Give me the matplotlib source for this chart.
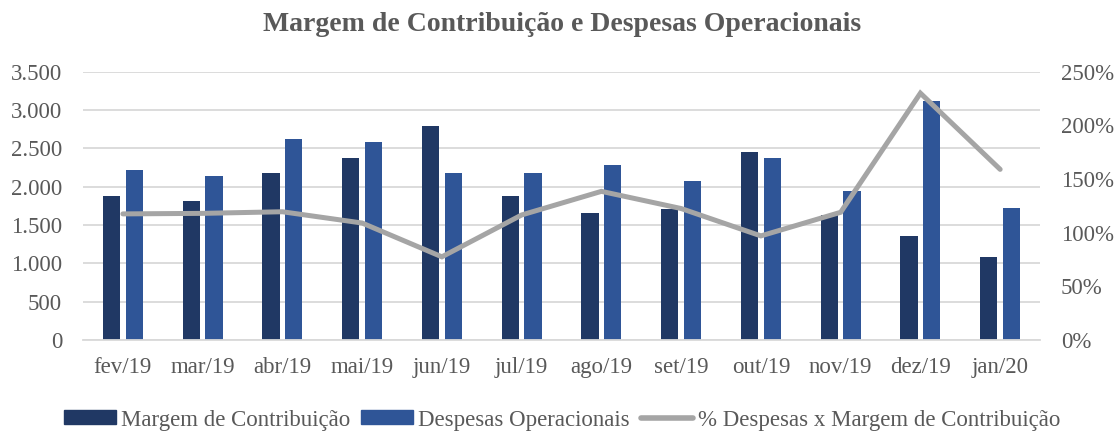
import numpy as np
import matplotlib
matplotlib.use("Agg")
import matplotlib.pyplot as plt
from matplotlib.ticker import FuncFormatter
from matplotlib.lines import Line2D
from matplotlib.patches import Patch

months = ["fev/19", "mar/19", "abr/19", "mai/19", "jun/19", "jul/19",
          "ago/19", "set/19", "out/19", "nov/19", "dez/19", "jan/20"]
margem = [1878, 1813, 2174, 2370, 2787, 1878, 1661, 1705, 2448, 1635, 1357, 1083]
despesas = [2213, 2143, 2622, 2583, 2174, 2174, 2287, 2074, 2370, 1939, 3118, 1726]
pct = [117.5, 118.0, 119.5, 109.0, 77.5, 116.5, 138.5, 122.5, 97.0, 119.0, 230.0, 159.0]

DARK = "#203864"
BLUE = "#2F5597"
GRAY = "#A5A5A5"
GRID = "#D9D9D9"
TEXT = "#595959"

plt.rcParams["font.family"] = ["Liberation Serif", "DejaVu Serif"]

fig = plt.figure(figsize=(11.2, 4.33), dpi=100)
ax = fig.add_axes([0.0741, 0.2148, 0.8545, 0.6196])
ax2 = ax.twinx()

x = np.arange(len(months))
w = 0.217
off = 0.143
ax.bar(x - off, margem, w, color=DARK, zorder=2)
ax.bar(x + off, despesas, w, color=BLUE, zorder=2)
ax2.plot(x, pct, color=GRAY, lw=3.6, solid_capstyle="round", solid_joinstyle="miter")

ax.set_xlim(-0.5, len(months) - 0.5)
ax.set_ylim(0, 3500)
ax.set_yticks(np.arange(0, 3501, 500))
ax.yaxis.set_major_formatter(FuncFormatter(lambda v, p: f"{int(v):,}".replace(",", ".")))
ax2.set_ylim(0, 250)
ax2.set_yticks(np.arange(0, 251, 50))
ax2.yaxis.set_major_formatter(FuncFormatter(lambda v, p: f"{int(v)}%"))

ax.set_xticks(x)
ax.set_xticklabels(months)
ax.grid(axis="y", color=GRID, lw=1.3)
ax.set_axisbelow(True)

for a in (ax, ax2):
    for s in ("top", "left", "right", "bottom"):
        a.spines[s].set_visible(False)
    a.tick_params(length=0, colors=TEXT, labelsize=16.5)
ax.spines["bottom"].set_visible(True)
ax.spines["bottom"].set_color(GRID)
ax.spines["bottom"].set_linewidth(1.3)
ax.tick_params(axis="y", pad=15)
ax.tick_params(axis="x", pad=12)
ax2.tick_params(axis="y", pad=15)

fig.text(0.502, 0.944, "Margem de Contribuição e Despesas Operacionais",
         ha="center", va="center", fontsize=20, fontweight="bold", color=TEXT)

handles = [Patch(color=DARK), Patch(color=BLUE),
           Line2D([], [], color=GRAY, lw=4, solid_capstyle="round")]
labels = ["Margem de Contribuição", "Despesas Operacionais",
          "% Despesas x Margem de Contribuição"]
fig.legend(handles, labels, loc="center", bbox_to_anchor=(0.502, 0.03), ncol=3,
           frameon=False, fontsize=16.5, labelcolor=TEXT, handlelength=2.27,
           handleheight=0.55, handletextpad=0.22, columnspacing=0.48)

fig.savefig("out.png", dpi=100)
